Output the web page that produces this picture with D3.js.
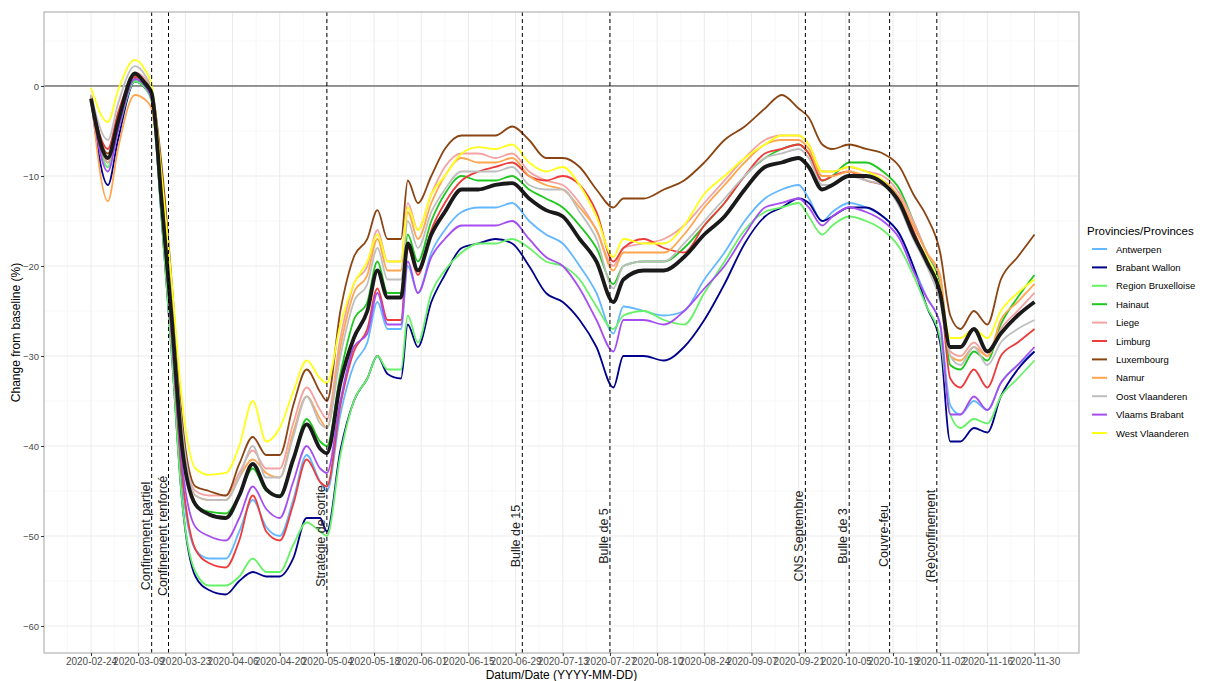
<!DOCTYPE html>
<html><head><meta charset="utf-8">
<script src="https://cdn.jsdelivr.net/npm/d3@7"></script>
<style>body{margin:0;background:#fff;} svg{display:block;font-family:"Liberation Sans",Arial,sans-serif;}</style>
</head><body>
<svg id="chart" width="1206" height="681"></svg>
<script>
const dates = ["2020-02-24","2020-02-29","2020-03-03","2020-03-08","2020-03-11","2020-03-13","2020-03-16","2020-03-19","2020-03-22","2020-03-26","2020-03-30","2020-04-04","2020-04-08","2020-04-12","2020-04-16","2020-04-20","2020-04-24","2020-04-28","2020-05-02","2020-05-04","2020-05-08","2020-05-12","2020-05-16","2020-05-19","2020-05-22","2020-05-26","2020-05-28","2020-05-31","2020-06-04","2020-06-08","2020-06-13","2020-06-18","2020-06-23","2020-06-28","2020-07-03","2020-07-08","2020-07-13","2020-07-18","2020-07-23","2020-07-28","2020-07-31","2020-08-06","2020-08-12","2020-08-18","2020-08-24","2020-08-30","2020-09-05","2020-09-11","2020-09-16","2020-09-21","2020-09-24","2020-09-28","2020-10-01","2020-10-06","2020-10-11","2020-10-16","2020-10-21","2020-10-25","2020-10-29","2020-11-02","2020-11-05","2020-11-08","2020-11-12","2020-11-16","2020-11-20","2020-11-25","2020-11-30"];

const provinces = ["Antwerpen","Brabant Wallon","Region Bruxelloise","Hainaut","Liege","Limburg","Luxembourg","Namur","Oost Vlaanderen","Vlaams Brabant","West Vlaanderen"];
const colors = ["#63b8ff","#00008b","#66f266","#1ec81e","#f4a3a3","#ee3b3b","#8b4513","#ffa54f","#bebebe","#a64df2","#ffff1a"];

const antwerpen = [-1.5,-9.0,-4.5,0.5,-0.2,-1.5,-14,-29,-44,-51.5,-52.5,-52.5,-49.5,-46.0,-49.0,-50.0,-46.0,-41.0,-44.0,-45.0,-36.5,-31.0,-28.5,-24.0,-27.0,-27.0,-20.0,-23.0,-18.5,-16.0,-14.0,-13.5,-13.5,-13.0,-15.0,-16.5,-17.5,-20.0,-23.0,-27.5,-24.5,-25.0,-25.5,-25.0,-21.5,-18.5,-15.0,-12.5,-11.5,-11.0,-12.5,-15.0,-14.0,-13.0,-13.5,-14.5,-16.5,-20.0,-23.5,-26.5,-35.5,-36.5,-35.0,-36.0,-33.0,-31.0,-29.5];
const brabantWallon = [-1.5,-11.0,-6.0,0.5,-0.2,-1.5,-15,-30,-46,-54.5,-56.0,-56.5,-55.0,-54.0,-54.5,-54.5,-52.5,-48.0,-48.0,-49.5,-40.5,-35.0,-32.5,-30.0,-32.0,-32.5,-26.5,-29.0,-24.0,-21.0,-18.0,-17.5,-17.0,-17.5,-20.0,-23.0,-24.0,-26.0,-29.0,-33.5,-30.0,-30.0,-30.5,-29.0,-26.0,-22.0,-17.5,-14.5,-13.5,-12.5,-13.0,-15.0,-14.5,-13.5,-13.5,-14.5,-16.5,-20.0,-24.5,-28.5,-39.5,-39.5,-38.0,-38.5,-34.5,-31.5,-29.5];
const bruxelles = [-1.5,-9.0,-5.0,0.5,-0.2,-1.8,-15,-30,-46,-54.0,-55.5,-55.5,-54.5,-52.5,-54.0,-54.0,-51.0,-48.5,-49.5,-50.0,-41.0,-35.0,-32.5,-30.0,-31.5,-31.5,-25.5,-28.5,-23.0,-20.5,-18.5,-17.5,-17.5,-17.0,-18.0,-19.5,-20.0,-21.5,-24.5,-27.0,-25.5,-25.0,-26.0,-26.5,-23.0,-19.5,-16.0,-14.0,-13.5,-13.0,-14.5,-16.5,-15.5,-14.5,-15.0,-16.0,-18.0,-21.0,-24.5,-28.0,-36.5,-38.0,-37.0,-37.5,-34.5,-32.5,-30.5];
const hainaut = [-1.5,-8.5,-4.5,0.8,0.0,-1.2,-13,-26,-40,-46.5,-47.3,-47.5,-45.5,-42.5,-45.0,-45.5,-41.5,-37.0,-39.5,-40.0,-32.0,-26.0,-24.0,-19.5,-23.0,-23.0,-16.5,-19.5,-15.0,-12.0,-10.0,-10.5,-10.5,-10.0,-11.5,-12.5,-13.5,-15.5,-18.0,-22.0,-20.0,-19.5,-19.5,-18.0,-15.5,-13.0,-10.0,-8.0,-7.0,-6.5,-7.5,-10.5,-10.0,-8.5,-8.5,-9.5,-11.5,-15.0,-18.5,-22.0,-31.0,-31.5,-29.5,-30.5,-26.5,-23.5,-21.0];
const liege = [-1.0,-8.5,-4.0,1.5,0.8,-0.8,-11,-24,-38,-45.0,-45.5,-45.5,-43.0,-40.5,-42.5,-42.5,-37.5,-33.5,-36.0,-37.0,-28.0,-22.0,-20.0,-16.0,-19.5,-19.5,-13.0,-16.0,-12.0,-9.0,-7.5,-7.5,-8.0,-7.5,-9.5,-10.5,-11.0,-13.0,-16.0,-20.0,-18.0,-17.5,-17.0,-15.5,-13.0,-10.5,-8.0,-6.0,-5.5,-5.5,-6.5,-9.5,-9.5,-9.0,-9.5,-10.0,-12.0,-15.0,-18.5,-21.5,-29.5,-30.0,-28.5,-30.0,-27.0,-25.0,-23.0];
const limburg = [-1.5,-7.0,-3.0,1.0,0.3,-1.0,-13,-28,-43,-51.5,-53.0,-53.5,-50.5,-45.5,-49.5,-50.5,-46.5,-41.5,-44.0,-44.5,-35.5,-29.5,-27.0,-22.5,-26.0,-26.0,-18.0,-21.0,-16.0,-13.0,-10.5,-9.5,-9.0,-8.5,-10.0,-10.5,-10.0,-11.0,-14.0,-19.5,-18.0,-17.0,-18.0,-18.5,-15.5,-13.0,-10.0,-7.5,-7.0,-6.5,-7.5,-10.5,-10.0,-9.5,-10.5,-11.0,-12.5,-16.0,-19.5,-23.0,-32.5,-33.5,-31.5,-33.5,-30.0,-28.5,-27.0];
const luxembourg = [-1.0,-7.5,-3.5,1.2,0.5,-0.5,-9,-22,-37,-44.5,-45.0,-45.5,-42.0,-39.0,-41.0,-41.0,-35.5,-31.5,-34.0,-35.0,-25.0,-19.0,-17.0,-13.8,-17.0,-17.0,-10.5,-13.0,-10.0,-7.0,-5.5,-5.5,-5.5,-4.5,-6.0,-8.0,-8.0,-9.0,-11.5,-13.5,-12.5,-12.5,-11.5,-10.5,-8.5,-6.0,-4.5,-2.5,-1.0,-2.5,-3.5,-6.5,-7.0,-6.5,-7.0,-7.5,-9.0,-12.0,-14.5,-18.5,-25.5,-27.0,-25.0,-26.5,-21.5,-19.0,-16.5];
const namur = [-1.0,-12.8,-7.0,-1.0,-1.5,-2.5,-12,-25,-39,-45.5,-46.0,-46.0,-43.5,-41.5,-43.0,-43.5,-38.5,-34.5,-37.0,-38.0,-29.0,-23.0,-21.0,-17.0,-20.5,-20.5,-14.0,-17.0,-13.0,-10.0,-8.0,-8.5,-8.5,-8.0,-10.0,-11.0,-11.5,-13.5,-16.0,-20.5,-18.5,-18.5,-18.5,-16.5,-13.5,-11.0,-8.5,-6.5,-6.0,-6.0,-7.0,-10.0,-10.0,-9.5,-10.0,-10.5,-12.5,-15.5,-18.5,-21.0,-30.0,-30.5,-29.0,-30.0,-26.0,-24.0,-22.0];
const oostVlaanderen = [-1.0,-6.0,-2.0,2.2,1.2,-0.5,-11,-24,-38,-45.5,-46.0,-46.0,-43.5,-40.0,-43.5,-43.5,-39.0,-34.5,-37.5,-38.0,-30.0,-24.0,-22.0,-18.0,-21.5,-21.5,-15.0,-18.0,-14.0,-11.5,-9.5,-9.5,-9.5,-9.0,-11.0,-11.5,-11.5,-14.0,-17.0,-22.5,-20.0,-19.5,-19.5,-17.5,-15.0,-12.5,-10.0,-8.0,-7.5,-7.0,-8.0,-11.0,-11.0,-10.0,-10.5,-11.0,-13.5,-17.0,-20.0,-24.0,-30.0,-31.0,-29.0,-31.0,-28.5,-27.0,-26.0];
const vlaamsBrabant = [-1.5,-9.5,-5.0,0.8,0.0,-1.5,-13,-28,-42,-49.0,-50.0,-50.5,-48.0,-44.5,-47.0,-48.0,-44.0,-40.0,-42.5,-43.0,-35.0,-29.0,-27.5,-23.0,-26.5,-26.5,-19.5,-23.0,-19.0,-17.0,-15.5,-15.5,-15.5,-15.0,-17.0,-19.0,-20.0,-22.5,-26.0,-29.5,-26.0,-26.0,-26.5,-25.0,-22.5,-20.0,-16.5,-13.5,-13.0,-12.5,-13.5,-15.5,-14.5,-13.5,-14.0,-15.0,-17.0,-20.5,-23.5,-26.5,-36.5,-36.5,-34.5,-36.0,-33.0,-31.0,-29.0];
const westVlaanderen = [-0.2,-4.0,-0.5,2.9,1.8,0.0,-10,-22,-35,-42.5,-43.2,-43.0,-40.0,-35.0,-39.5,-38.0,-34.0,-30.5,-32.5,-33.0,-26.5,-22.0,-19.5,-16.5,-19.5,-19.5,-13.5,-16.0,-12.0,-10.0,-7.5,-6.8,-7.0,-6.5,-8.5,-9.5,-9.0,-11.0,-14.5,-19.0,-17.0,-17.5,-17.5,-15.5,-12.0,-10.0,-8.0,-6.5,-5.5,-5.5,-6.5,-9.5,-9.5,-9.0,-9.5,-10.5,-13.0,-16.5,-19.0,-22.5,-28.0,-28.0,-27.0,-28.0,-25.0,-23.0,-21.5];
const belgium = [-1.4,-8.0,-4.0,1.4,0.3,-0.8,-13,-26,-40,-46.5,-47.6,-48.0,-45.5,-42.0,-44.8,-45.6,-41.5,-37.6,-40.3,-40.8,-33.0,-28.0,-25.0,-20.5,-23.5,-23.5,-17.5,-20.5,-16.5,-14.0,-11.5,-11.5,-11.0,-10.8,-12.5,-13.8,-14.5,-17.0,-19.5,-24.0,-21.5,-20.5,-20.5,-19.0,-16.5,-14.5,-11.5,-9.0,-8.5,-8.0,-9.0,-11.5,-11.0,-10.0,-10.0,-10.8,-13.0,-16.5,-19.5,-23.0,-29.0,-29.0,-27.0,-29.5,-27.5,-25.5,-24.0];
const seriesValues = [antwerpen,brabantWallon,bruxelles,hainaut,liege,limburg,luxembourg,namur,oostVlaanderen,vlaamsBrabant,westVlaanderen];

const eventDates = ["2020-03-13","2020-03-18","2020-05-04","2020-07-01","2020-07-27","2020-09-23","2020-10-06","2020-10-18","2020-11-01"];
const eventLabels = ["Confinement partiel","Confinement renforcé","Stratégie de sortie","Bulle de 15","Bulle de 5","CNS Septembre","Bulle de 3","Couvre-feu","(Re)confinement"];
const eventLabelValue = -50;

const xTickLabels = ["2020-02-24","2020-03-09","2020-03-23","2020-04-06","2020-04-20","2020-05-04","2020-05-18","2020-06-01","2020-06-15","2020-06-29","2020-07-13","2020-07-27","2020-08-10","2020-08-24","2020-09-07","2020-09-21","2020-10-05","2020-10-19","2020-11-02","2020-11-16","2020-11-30"];
const yTicks = [0,-10,-20,-30,-40,-50,-60];

const parse = d3.utcParse("%Y-%m-%d");
const svg = d3.select("#chart");
const P = {left:44, right:1079, top:12, bottom:653};
const DAY = 864e5;
const d0 = parse("2020-02-24");
const x = d3.scaleUtc()
  .domain([new Date(+d0 - 13.95*DAY), new Date(+d0 + 293.2*DAY)])
  .range([P.left, P.right]);
const y = d3.scaleLinear().domain([8.22, -63]).range([P.top, P.bottom]);

// grid
const g = svg.append("g");
const xMajor = xTickLabels.map(parse);
const xMinor = [];
for (let t = +xMajor[0] - 7*DAY; t <= +x.domain()[1]; t += 14*DAY) xMinor.push(new Date(t));
g.selectAll(".gmx").data(xMinor).join("line")
  .attr("x1", d=>x(d)).attr("x2", d=>x(d)).attr("y1", P.top).attr("y2", P.bottom)
  .attr("stroke", "#f4f4f4").attr("stroke-width", 0.6);
const yMinor = [5,-5,-15,-25,-35,-45,-55];
g.selectAll(".gmy").data(yMinor).join("line")
  .attr("x1", P.left).attr("x2", P.right).attr("y1", d=>y(d)).attr("y2", d=>y(d))
  .attr("stroke", "#f4f4f4").attr("stroke-width", 0.6);
g.selectAll(".gx").data(xMajor).join("line")
  .attr("x1", d=>x(d)).attr("x2", d=>x(d)).attr("y1", P.top).attr("y2", P.bottom)
  .attr("stroke", "#ebebeb").attr("stroke-width", 1);
g.selectAll(".gy").data(yTicks).join("line")
  .attr("x1", P.left).attr("x2", P.right).attr("y1", d=>y(d)).attr("y2", d=>y(d))
  .attr("stroke", "#ebebeb").attr("stroke-width", 1);

// zero line
svg.append("line").attr("x1", P.left).attr("x2", P.right).attr("y1", y(0)).attr("y2", y(0))
  .attr("stroke", "#333").attr("stroke-width", 1);

// series
const line = d3.line().x((d,i)=>x(parse(dates[i]))).y(d=>y(d)).curve(d3.curveMonotoneX);
const lg = svg.append("g");
seriesValues.forEach((vals, k) => {
  lg.append("path").datum(vals).attr("d", line).attr("fill","none")
    .attr("stroke", colors[k]).attr("stroke-width", 1.8).attr("stroke-linejoin","round");
});
lg.append("path").datum(belgium).attr("d", line).attr("fill","none")
  .attr("stroke", "#1a1a1a").attr("stroke-width", 3.8).attr("stroke-linejoin","round");

// events
const ev = svg.append("g");
eventDates.forEach((ds, i) => {
  const xx = x(parse(ds));
  ev.append("line").attr("x1", xx).attr("x2", xx).attr("y1", P.top).attr("y2", P.bottom)
    .attr("stroke", "#000").attr("stroke-width", 1).attr("stroke-dasharray", "4,3");
  ev.append("text").attr("transform", `translate(${xx-2},${y(eventLabelValue)}) rotate(-90)`)
    .attr("text-anchor","middle").attr("font-size", 12.5).attr("fill", "#222").text(eventLabels[i]);
});

// panel border
svg.append("rect").attr("x", P.left).attr("y", P.top).attr("width", P.right-P.left).attr("height", P.bottom-P.top)
  .attr("fill","none").attr("stroke","#b3b3b3").attr("stroke-width",1.2);

// axes
const xa = svg.append("g").attr("transform", `translate(0,${P.bottom})`)
  .call(d3.axisBottom(x).tickValues(xMajor).tickFormat(d3.utcFormat("%Y-%m-%d")).tickSize(3).tickPadding(2));
xa.select(".domain").remove();
xa.selectAll("line").attr("stroke","#333");
xa.selectAll("text").attr("font-size", 10).attr("fill","#4d4d4d").attr("font-family","Liberation Sans, Arial, sans-serif");
const ya = svg.append("g").attr("transform", `translate(${P.left},0)`)
  .call(d3.axisLeft(y).tickValues(yTicks).tickSize(3).tickPadding(2));
ya.select(".domain").remove();
ya.selectAll("line").attr("stroke","#333");
ya.selectAll("text").attr("font-size", 9.5).attr("fill","#4d4d4d").attr("font-family","Liberation Sans, Arial, sans-serif");

svg.append("text").attr("x", (P.left+P.right)/2).attr("y", 679).attr("text-anchor","middle")
  .attr("font-size", 12).attr("fill","#000").text("Datum/Date (YYYY-MM-DD)");
svg.append("text").attr("transform", `translate(20,${(P.top+P.bottom)/2}) rotate(-90)`).attr("text-anchor","middle")
  .attr("font-size", 12).attr("fill","#000").text("Change from baseline (%)");

// legend
const leg = svg.append("g").attr("transform","translate(1087,0)");
leg.append("text").attr("x",0).attr("y",235).attr("font-size",11.5).attr("fill","#000").text("Provincies/Provinces");
provinces.forEach((p,i)=>{
  const yy = 249 + i*18.4;
  leg.append("line").attr("x1",5).attr("x2",20).attr("y1",yy).attr("y2",yy).attr("stroke",colors[i]).attr("stroke-width",2);
  leg.append("text").attr("x",29).attr("y",yy+3.5).attr("font-size",9.5).attr("fill","#000").text(p);
});
</script>
</body></html>
